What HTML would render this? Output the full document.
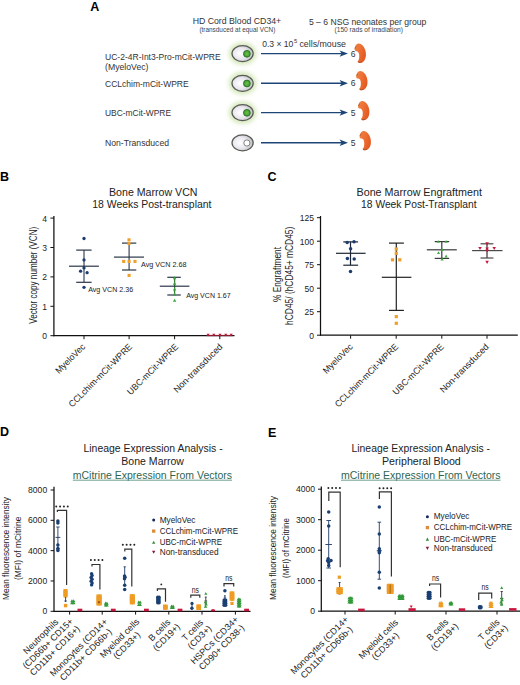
<!DOCTYPE html>
<html><head><meta charset="utf-8"><style>
html,body{margin:0;padding:0;background:#fff;}
body{width:520px;height:685px;overflow:hidden;}
svg{display:block;font-family:"Liberation Sans", sans-serif;}
</style></head><body>
<svg width="520" height="685" viewBox="0 0 520 685">
<defs>
<filter id="blur" x="-50%" y="-50%" width="200%" height="200%"><feGaussianBlur stdDeviation="2.2"/></filter>
<radialGradient id="cellg" cx="0.38" cy="0.5" r="0.65">
<stop offset="0" stop-color="#ffffff"/><stop offset="0.55" stop-color="#e9e6ee"/><stop offset="1" stop-color="#b9b9bd"/>
</radialGradient>
<radialGradient id="glow" cx="0.5" cy="0.5" r="0.5">
<stop offset="0.55" stop-color="#d9ebc0"/><stop offset="1" stop-color="#ffffff" stop-opacity="0"/>
</radialGradient>
<radialGradient id="nuc" cx="0.5" cy="0.5" r="0.5">
<stop offset="0" stop-color="#6cc04a"/><stop offset="0.7" stop-color="#4aa736"/><stop offset="1" stop-color="#2f7d25"/>
</radialGradient>
<linearGradient id="mouse" x1="0" y1="0" x2="1" y2="0.5">
<stop offset="0" stop-color="#eb8444"/><stop offset="0.5" stop-color="#ee7034"/><stop offset="1" stop-color="#e25a22"/>
</linearGradient>
</defs>
<rect width="520" height="685" fill="#fff"/>
<text x="90.30" y="10.60" font-size="12.5" text-anchor="start" fill="#000" font-weight="bold">A</text>
<text x="192.70" y="24.40" font-size="9" text-anchor="start" fill="#333" textLength="88.50" lengthAdjust="spacingAndGlyphs">HD Cord Blood CD34+</text>
<text x="199.40" y="32.00" font-size="6.4" text-anchor="start" fill="#444" textLength="76.00" lengthAdjust="spacingAndGlyphs">(transduced at equal VCN)</text>
<text x="308.90" y="24.60" font-size="9" text-anchor="start" fill="#333" textLength="117.50" lengthAdjust="spacingAndGlyphs">5 – 6 NSG neonates per group</text>
<text x="334.50" y="32.20" font-size="6.6" text-anchor="start" fill="#444" textLength="68.50" lengthAdjust="spacingAndGlyphs">(150 rads of irradiation)</text>
<text x="262.20" y="47.10" font-size="8.6" text-anchor="start" fill="#333" textLength="31.20" lengthAdjust="spacingAndGlyphs">0.3 × 10</text>
<text x="294.00" y="43.40" font-size="5.8" text-anchor="start" fill="#333">5</text>
<text x="299.40" y="47.10" font-size="8.8" text-anchor="start" fill="#333" textLength="46.60" lengthAdjust="spacingAndGlyphs">cells/mouse</text>
<text x="105.00" y="60.00" font-size="8.7" text-anchor="start" fill="#333" textLength="115.70" lengthAdjust="spacingAndGlyphs">UC-2-4R-Int3-Pro-mCit-WPRE</text>
<text x="105.00" y="87.00" font-size="8.7" text-anchor="start" fill="#333" textLength="83.70" lengthAdjust="spacingAndGlyphs">CCLchim-mCit-WPRE</text>
<text x="105.00" y="116.30" font-size="8.7" text-anchor="start" fill="#333" textLength="66.00" lengthAdjust="spacingAndGlyphs">UBC-mCit-WPRE</text>
<text x="105.00" y="146.30" font-size="8.7" text-anchor="start" fill="#333" textLength="64.00" lengthAdjust="spacingAndGlyphs">Non-Transduced</text>
<text x="105.00" y="70.20" font-size="8.7" text-anchor="start" fill="#333" textLength="43.50" lengthAdjust="spacingAndGlyphs">(MyeloVec)</text>
<ellipse cx="242.6" cy="53.6" rx="13.8" ry="11.2" fill="#d6e8bb" filter="url(#blur)"/>
<ellipse cx="242.6" cy="53.6" rx="10.6" ry="8.0" fill="url(#cellg)" stroke="#585c55" stroke-width="1.25"/>
<circle cx="246.9" cy="53.800000000000004" r="3.4" fill="url(#nuc)" stroke="#2c7524" stroke-width="0.9"/>
<line x1="261.00" y1="53.60" x2="342.00" y2="53.60" stroke="#1d4677" stroke-width="1.45"/>
<path d="M348 53.60L339.6 50.40L341.6 53.60L339.6 56.80Z" fill="#1d4677"/>
<text x="350.70" y="56.60" font-size="8.6" text-anchor="start" fill="#333">6</text>
<path d="M354.60 49.60C354.60 47.00 356.00 43.80 358.40 43.60C361.40 43.40 364.20 46.60 365.40 50.60C366.40 54.10 366.00 58.20 364.40 60.40C363.20 62.20 361.40 63.00 359.60 62.90C358.40 62.80 357.40 62.00 358.00 61.00C359.00 59.80 359.40 57.60 359.20 55.00C359.10 53.00 358.20 51.40 356.80 51.20C355.60 51.10 354.60 50.80 354.60 49.60Z" fill="url(#mouse)"/>
<path d="M357.80 61.60C358.80 62.60 360.60 62.60 361.80 61.80" stroke="#7a3c20" stroke-width="0.8" fill="none" opacity="0.75"/>
<path d="M355.00 48.60C355.20 47.40 355.80 46.80 356.40 46.60" stroke="#8a4a28" stroke-width="0.9" fill="none" opacity="0.7"/>
<ellipse cx="242.6" cy="83.3" rx="13.8" ry="11.2" fill="#d6e8bb" filter="url(#blur)"/>
<ellipse cx="242.6" cy="83.3" rx="10.6" ry="8.0" fill="url(#cellg)" stroke="#585c55" stroke-width="1.25"/>
<circle cx="246.9" cy="83.5" r="3.4" fill="url(#nuc)" stroke="#2c7524" stroke-width="0.9"/>
<line x1="261.00" y1="83.30" x2="342.00" y2="83.30" stroke="#1d4677" stroke-width="1.45"/>
<path d="M348 83.30L339.6 80.10L341.6 83.30L339.6 86.50Z" fill="#1d4677"/>
<text x="350.70" y="86.30" font-size="8.6" text-anchor="start" fill="#333">6</text>
<path d="M356.20 77.00C356.20 74.40 357.60 71.20 360.00 71.00C363.00 70.80 365.80 74.00 367.00 78.00C368.00 81.50 367.60 85.60 366.00 87.80C364.80 89.60 363.00 90.40 361.20 90.30C360.00 90.20 359.00 89.40 359.60 88.40C360.60 87.20 361.00 85.00 360.80 82.40C360.70 80.40 359.80 78.80 358.40 78.60C357.20 78.50 356.20 78.20 356.20 77.00Z" fill="url(#mouse)"/>
<path d="M359.40 89.00C360.40 90.00 362.20 90.00 363.40 89.20" stroke="#7a3c20" stroke-width="0.8" fill="none" opacity="0.75"/>
<path d="M356.60 76.00C356.80 74.80 357.40 74.20 358.00 74.00" stroke="#8a4a28" stroke-width="0.9" fill="none" opacity="0.7"/>
<ellipse cx="242.6" cy="112.6" rx="13.8" ry="11.2" fill="#d6e8bb" filter="url(#blur)"/>
<ellipse cx="242.6" cy="112.6" rx="10.6" ry="8.0" fill="url(#cellg)" stroke="#585c55" stroke-width="1.25"/>
<circle cx="246.9" cy="112.8" r="3.4" fill="url(#nuc)" stroke="#2c7524" stroke-width="0.9"/>
<line x1="261.00" y1="112.60" x2="342.00" y2="112.60" stroke="#1d4677" stroke-width="1.45"/>
<path d="M348 112.60L339.6 109.40L341.6 112.60L339.6 115.80Z" fill="#1d4677"/>
<text x="350.70" y="115.60" font-size="8.6" text-anchor="start" fill="#333">5</text>
<path d="M358.10 107.00C358.10 104.40 359.50 101.20 361.90 101.00C364.90 100.80 367.70 104.00 368.90 108.00C369.90 111.50 369.50 115.60 367.90 117.80C366.70 119.60 364.90 120.40 363.10 120.30C361.90 120.20 360.90 119.40 361.50 118.40C362.50 117.20 362.90 115.00 362.70 112.40C362.60 110.40 361.70 108.80 360.30 108.60C359.10 108.50 358.10 108.20 358.10 107.00Z" fill="url(#mouse)"/>
<path d="M361.30 119.00C362.30 120.00 364.10 120.00 365.30 119.20" stroke="#7a3c20" stroke-width="0.8" fill="none" opacity="0.75"/>
<path d="M358.50 106.00C358.70 104.80 359.30 104.20 359.90 104.00" stroke="#8a4a28" stroke-width="0.9" fill="none" opacity="0.7"/>
<ellipse cx="242.6" cy="142.8" rx="10.6" ry="8.0" fill="url(#cellg)" stroke="#585c55" stroke-width="1.25"/>
<circle cx="246.9" cy="143.0" r="3.1" fill="#fff" stroke="#666" stroke-width="0.8"/>
<line x1="261.00" y1="142.80" x2="342.00" y2="142.80" stroke="#1d4677" stroke-width="1.45"/>
<path d="M348 142.80L339.6 139.60L341.6 142.80L339.6 146.00Z" fill="#1d4677"/>
<text x="350.70" y="145.80" font-size="8.6" text-anchor="start" fill="#333">5</text>
<path d="M359.60 137.00C359.60 134.40 361.00 131.20 363.40 131.00C366.40 130.80 369.20 134.00 370.40 138.00C371.40 141.50 371.00 145.60 369.40 147.80C368.20 149.60 366.40 150.40 364.60 150.30C363.40 150.20 362.40 149.40 363.00 148.40C364.00 147.20 364.40 145.00 364.20 142.40C364.10 140.40 363.20 138.80 361.80 138.60C360.60 138.50 359.60 138.20 359.60 137.00Z" fill="url(#mouse)"/>
<path d="M362.80 149.00C363.80 150.00 365.60 150.00 366.80 149.20" stroke="#7a3c20" stroke-width="0.8" fill="none" opacity="0.75"/>
<path d="M360.00 136.00C360.20 134.80 360.80 134.20 361.40 134.00" stroke="#8a4a28" stroke-width="0.9" fill="none" opacity="0.7"/>
<text x="0.10" y="180.70" font-size="12.5" text-anchor="start" fill="#000" font-weight="bold">B</text>
<text x="109.00" y="196.30" font-size="10.5" text-anchor="start" fill="#222" textLength="88.50" lengthAdjust="spacingAndGlyphs">Bone Marrow VCN</text>
<text x="92.30" y="208.40" font-size="10.5" text-anchor="start" fill="#222" textLength="119.20" lengthAdjust="spacingAndGlyphs">18 Weeks Post-transplant</text>
<line x1="53.90" y1="216.00" x2="53.90" y2="336.20" stroke="#111" stroke-width="1.25"/>
<line x1="53.40" y1="335.70" x2="234.50" y2="335.70" stroke="#111" stroke-width="1.25"/>
<line x1="50.40" y1="335.70" x2="53.90" y2="335.70" stroke="#111" stroke-width="1.0"/>
<text x="47.00" y="339.10" font-size="9.4" text-anchor="end" fill="#222" textLength="4.75" lengthAdjust="spacingAndGlyphs">0</text>
<line x1="50.40" y1="306.30" x2="53.90" y2="306.30" stroke="#111" stroke-width="1.0"/>
<text x="47.00" y="309.70" font-size="9.4" text-anchor="end" fill="#222" textLength="4.75" lengthAdjust="spacingAndGlyphs">1</text>
<line x1="50.40" y1="276.90" x2="53.90" y2="276.90" stroke="#111" stroke-width="1.0"/>
<text x="47.00" y="280.30" font-size="9.4" text-anchor="end" fill="#222" textLength="4.75" lengthAdjust="spacingAndGlyphs">2</text>
<line x1="50.40" y1="247.50" x2="53.90" y2="247.50" stroke="#111" stroke-width="1.0"/>
<text x="47.00" y="250.90" font-size="9.4" text-anchor="end" fill="#222" textLength="4.75" lengthAdjust="spacingAndGlyphs">3</text>
<line x1="50.40" y1="218.10" x2="53.90" y2="218.10" stroke="#111" stroke-width="1.0"/>
<text x="47.00" y="221.50" font-size="9.4" text-anchor="end" fill="#222" textLength="4.75" lengthAdjust="spacingAndGlyphs">4</text>
<line x1="84.00" y1="335.70" x2="84.00" y2="339.20" stroke="#111" stroke-width="1.0"/>
<line x1="129.10" y1="335.70" x2="129.10" y2="339.20" stroke="#111" stroke-width="1.0"/>
<line x1="174.60" y1="335.70" x2="174.60" y2="339.20" stroke="#111" stroke-width="1.0"/>
<line x1="219.80" y1="335.70" x2="219.80" y2="339.20" stroke="#111" stroke-width="1.0"/>
<text x="37.20" y="275.30" font-size="10" text-anchor="middle" fill="#222" textLength="97.00" lengthAdjust="spacingAndGlyphs" transform="rotate(-90 37.20 275.30)">Vector copy number (VCN)</text>
<line x1="84.00" y1="250.10" x2="84.00" y2="282.30" stroke="#4b5668" stroke-width="1.3"/>
<line x1="69.00" y1="266.20" x2="98.90" y2="266.20" stroke="#2a3648" stroke-width="1.2"/>
<line x1="76.20" y1="250.10" x2="91.60" y2="250.10" stroke="#2a3648" stroke-width="1.2"/>
<line x1="76.20" y1="282.30" x2="91.60" y2="282.30" stroke="#2a3648" stroke-width="1.2"/>
<circle cx="84.00" cy="238.50" r="1.65" fill="#1c3c70"/>
<circle cx="84.00" cy="259.90" r="1.65" fill="#1c3c70"/>
<circle cx="84.00" cy="267.90" r="1.65" fill="#1c3c70"/>
<circle cx="80.60" cy="271.20" r="1.65" fill="#1c3c70"/>
<circle cx="87.10" cy="272.70" r="1.65" fill="#1c3c70"/>
<circle cx="84.00" cy="287.30" r="1.65" fill="#1c3c70"/>
<text x="88.20" y="292.40" font-size="7.3" text-anchor="start" fill="#222" textLength="45.00" lengthAdjust="spacingAndGlyphs">Avg VCN 2.36</text>
<line x1="129.10" y1="243.10" x2="129.10" y2="270.00" stroke="#4b5668" stroke-width="1.3"/>
<line x1="114.00" y1="257.10" x2="144.00" y2="257.10" stroke="#2a3648" stroke-width="1.2"/>
<line x1="122.00" y1="243.10" x2="136.30" y2="243.10" stroke="#2a3648" stroke-width="1.2"/>
<line x1="122.00" y1="270.00" x2="136.30" y2="270.00" stroke="#2a3648" stroke-width="1.2"/>
<rect x="127.45" y="238.25" width="3.1" height="3.1" fill="#f0a02a"/>
<rect x="127.45" y="241.85" width="3.1" height="3.1" fill="#f0a02a"/>
<rect x="122.15" y="259.85" width="3.1" height="3.1" fill="#f0a02a"/>
<rect x="127.55" y="259.85" width="3.1" height="3.1" fill="#f0a02a"/>
<rect x="133.45" y="259.85" width="3.1" height="3.1" fill="#f0a02a"/>
<rect x="127.55" y="273.85" width="3.1" height="3.1" fill="#f0a02a"/>
<text x="141.00" y="266.80" font-size="7.4" text-anchor="start" fill="#222" textLength="45.60" lengthAdjust="spacingAndGlyphs">Avg VCN 2.68</text>
<line x1="174.60" y1="277.30" x2="174.60" y2="295.00" stroke="#3c7a3c" stroke-width="1.3"/>
<line x1="159.80" y1="286.20" x2="189.40" y2="286.20" stroke="#2a3648" stroke-width="1.2"/>
<line x1="167.30" y1="277.30" x2="180.80" y2="277.30" stroke="#2a3648" stroke-width="1.2"/>
<line x1="167.30" y1="295.00" x2="180.80" y2="295.00" stroke="#2a3648" stroke-width="1.2"/>
<path d="M174.60 276.07L176.30 279.13L172.90 279.13Z" fill="#3ea33e"/>
<path d="M174.60 281.67L176.30 284.73L172.90 284.73Z" fill="#3ea33e"/>
<path d="M174.60 287.47L176.30 290.53L172.90 290.53Z" fill="#3ea33e"/>
<path d="M174.60 292.47L176.30 295.53L172.90 295.53Z" fill="#3ea33e"/>
<path d="M174.60 298.67L176.30 301.73L172.90 301.73Z" fill="#3ea33e"/>
<text x="186.20" y="297.50" font-size="7.3" text-anchor="start" fill="#222" textLength="44.40" lengthAdjust="spacingAndGlyphs">Avg VCN 1.67</text>
<line x1="206.50" y1="335.50" x2="232.50" y2="335.50" stroke="#8a1a30" stroke-width="1.2"/>
<path d="M208.10 336.35L209.60 333.65L206.60 333.65Z" fill="#b81838"/>
<path d="M213.80 336.35L215.30 333.65L212.30 333.65Z" fill="#b81838"/>
<path d="M220.00 336.35L221.50 333.65L218.50 333.65Z" fill="#b81838"/>
<path d="M225.80 336.35L227.30 333.65L224.30 333.65Z" fill="#b81838"/>
<path d="M231.20 336.35L232.70 333.65L229.70 333.65Z" fill="#b81838"/>
<text x="85.80" y="347.30" font-size="9.0" text-anchor="end" fill="#222" textLength="38.00" lengthAdjust="spacingAndGlyphs" transform="rotate(-45 85.80 347.30)">MyeloVec</text>
<text x="132.70" y="347.30" font-size="9.0" text-anchor="end" fill="#222" textLength="85.50" lengthAdjust="spacingAndGlyphs" transform="rotate(-45 132.70 347.30)">CCLchim-mCit-WPRE</text>
<text x="178.90" y="347.30" font-size="9.0" text-anchor="end" fill="#222" textLength="68.00" lengthAdjust="spacingAndGlyphs" transform="rotate(-45 178.90 347.30)">UBC-mCit-WPRE</text>
<text x="223.10" y="347.30" font-size="9.0" text-anchor="end" fill="#222" textLength="65.00" lengthAdjust="spacingAndGlyphs" transform="rotate(-45 223.10 347.30)">Non-transduced</text>
<text x="267.60" y="180.50" font-size="12.5" text-anchor="start" fill="#000" font-weight="bold">C</text>
<text x="356.50" y="196.20" font-size="10.5" text-anchor="start" fill="#222" textLength="125.40" lengthAdjust="spacingAndGlyphs">Bone Marrow Engraftment</text>
<text x="361.10" y="208.30" font-size="10.5" text-anchor="start" fill="#222" textLength="115.40" lengthAdjust="spacingAndGlyphs">18 Week Post-Transplant</text>
<line x1="320.50" y1="216.00" x2="320.50" y2="335.70" stroke="#111" stroke-width="1.25"/>
<line x1="320.00" y1="335.20" x2="517.80" y2="335.20" stroke="#111" stroke-width="1.25"/>
<line x1="317.00" y1="335.20" x2="320.50" y2="335.20" stroke="#111" stroke-width="1.0"/>
<text x="313.90" y="338.60" font-size="9.4" text-anchor="end" fill="#222" textLength="4.75" lengthAdjust="spacingAndGlyphs">0</text>
<line x1="317.00" y1="311.70" x2="320.50" y2="311.70" stroke="#111" stroke-width="1.0"/>
<text x="313.90" y="315.10" font-size="9.4" text-anchor="end" fill="#222" textLength="9.50" lengthAdjust="spacingAndGlyphs">25</text>
<line x1="317.00" y1="288.20" x2="320.50" y2="288.20" stroke="#111" stroke-width="1.0"/>
<text x="313.90" y="291.60" font-size="9.4" text-anchor="end" fill="#222" textLength="9.50" lengthAdjust="spacingAndGlyphs">50</text>
<line x1="317.00" y1="264.70" x2="320.50" y2="264.70" stroke="#111" stroke-width="1.0"/>
<text x="313.90" y="268.10" font-size="9.4" text-anchor="end" fill="#222" textLength="9.50" lengthAdjust="spacingAndGlyphs">75</text>
<line x1="317.00" y1="241.20" x2="320.50" y2="241.20" stroke="#111" stroke-width="1.0"/>
<text x="313.90" y="244.60" font-size="9.4" text-anchor="end" fill="#222" textLength="14.25" lengthAdjust="spacingAndGlyphs">100</text>
<line x1="317.00" y1="217.70" x2="320.50" y2="217.70" stroke="#111" stroke-width="1.0"/>
<text x="313.90" y="221.10" font-size="9.4" text-anchor="end" fill="#222" textLength="14.25" lengthAdjust="spacingAndGlyphs">125</text>
<line x1="350.60" y1="335.20" x2="350.60" y2="338.70" stroke="#111" stroke-width="1.0"/>
<line x1="396.20" y1="335.20" x2="396.20" y2="338.70" stroke="#111" stroke-width="1.0"/>
<line x1="441.80" y1="335.20" x2="441.80" y2="338.70" stroke="#111" stroke-width="1.0"/>
<line x1="487.00" y1="335.20" x2="487.00" y2="338.70" stroke="#111" stroke-width="1.0"/>
<text x="280.80" y="274.50" font-size="10" text-anchor="middle" fill="#222" textLength="55.00" lengthAdjust="spacingAndGlyphs" transform="rotate(-90 280.80 274.50)">% Engraftment</text>
<text x="293.20" y="275.80" font-size="10" text-anchor="middle" fill="#222" textLength="98.20" lengthAdjust="spacingAndGlyphs" transform="rotate(-90 293.20 275.80)">hCD45/ (hCD45+ mCD45)</text>
<line x1="350.50" y1="241.70" x2="350.50" y2="265.20" stroke="#1e2633" stroke-width="1.2"/>
<line x1="336.00" y1="253.30" x2="365.60" y2="253.30" stroke="#1e2633" stroke-width="1.2"/>
<line x1="343.30" y1="241.90" x2="358.10" y2="241.90" stroke="#1e2633" stroke-width="1.2"/>
<line x1="343.30" y1="265.20" x2="358.10" y2="265.20" stroke="#1e2633" stroke-width="1.2"/>
<circle cx="347.20" cy="242.40" r="1.75" fill="#1c3c70"/>
<circle cx="354.00" cy="241.80" r="1.75" fill="#1c3c70"/>
<circle cx="350.60" cy="248.70" r="1.75" fill="#1c3c70"/>
<circle cx="347.40" cy="258.40" r="1.75" fill="#1c3c70"/>
<circle cx="354.20" cy="259.00" r="1.75" fill="#1c3c70"/>
<circle cx="350.50" cy="271.40" r="1.75" fill="#1c3c70"/>
<line x1="396.30" y1="243.10" x2="396.30" y2="310.40" stroke="#222" stroke-width="1.2"/>
<line x1="381.80" y1="277.30" x2="411.40" y2="277.30" stroke="#222" stroke-width="1.2"/>
<line x1="389.00" y1="243.10" x2="403.90" y2="243.10" stroke="#222" stroke-width="1.2"/>
<line x1="389.00" y1="310.40" x2="403.90" y2="310.40" stroke="#222" stroke-width="1.2"/>
<rect x="394.70" y="247.40" width="3.2" height="3.2" fill="#f0a02a"/>
<rect x="394.70" y="251.70" width="3.2" height="3.2" fill="#f0a02a"/>
<rect x="390.90" y="258.20" width="3.2" height="3.2" fill="#f0a02a"/>
<rect x="398.20" y="258.20" width="3.2" height="3.2" fill="#f0a02a"/>
<rect x="394.70" y="315.00" width="3.2" height="3.2" fill="#f0a02a"/>
<rect x="394.70" y="321.70" width="3.2" height="3.2" fill="#f0a02a"/>
<line x1="441.80" y1="241.60" x2="441.80" y2="258.40" stroke="#3a3450" stroke-width="1.2"/>
<line x1="426.80" y1="249.80" x2="456.80" y2="249.80" stroke="#3a3a3a" stroke-width="1.2"/>
<line x1="434.70" y1="241.60" x2="449.20" y2="241.60" stroke="#3a3a3a" stroke-width="1.2"/>
<line x1="434.70" y1="258.40" x2="449.20" y2="258.40" stroke="#3a3a3a" stroke-width="1.2"/>
<path d="M438.20 239.96L439.80 242.84L436.60 242.84Z" fill="#45a845"/>
<path d="M446.10 239.96L447.70 242.84L444.50 242.84Z" fill="#45a845"/>
<path d="M442.10 248.16L443.70 251.04L440.50 251.04Z" fill="#45a845"/>
<path d="M438.50 251.16L440.10 254.04L436.90 254.04Z" fill="#45a845"/>
<path d="M446.10 254.56L447.70 257.44L444.50 257.44Z" fill="#45a845"/>
<path d="M442.10 257.56L443.70 260.44L440.50 260.44Z" fill="#45a845"/>
<line x1="487.00" y1="243.80" x2="487.00" y2="258.00" stroke="#3a3034" stroke-width="1.2"/>
<line x1="472.10" y1="250.60" x2="502.50" y2="250.60" stroke="#4a4a4a" stroke-width="1.2"/>
<line x1="480.50" y1="243.80" x2="493.40" y2="243.80" stroke="#4a4a4a" stroke-width="1.2"/>
<line x1="480.50" y1="258.00" x2="493.40" y2="258.00" stroke="#4a4a4a" stroke-width="1.2"/>
<path d="M487.10 245.38L488.85 242.23L485.35 242.23Z" fill="#c8173c"/>
<path d="M480.00 250.07L481.75 246.93L478.25 246.93Z" fill="#c8173c"/>
<path d="M494.20 250.07L495.95 246.93L492.45 246.93Z" fill="#c8173c"/>
<path d="M487.10 250.57L488.85 247.43L485.35 247.43Z" fill="#c8173c"/>
<path d="M487.10 252.57L488.85 249.43L485.35 249.43Z" fill="#c8173c"/>
<path d="M487.10 263.97L488.85 260.82L485.35 260.82Z" fill="#c8173c"/>
<text x="353.30" y="347.30" font-size="9.0" text-anchor="end" fill="#222" textLength="38.00" lengthAdjust="spacingAndGlyphs" transform="rotate(-45 353.30 347.30)">MyeloVec</text>
<text x="398.90" y="347.30" font-size="9.0" text-anchor="end" fill="#222" textLength="85.50" lengthAdjust="spacingAndGlyphs" transform="rotate(-45 398.90 347.30)">CCLchim-mCit-WPRE</text>
<text x="444.40" y="347.30" font-size="9.0" text-anchor="end" fill="#222" textLength="68.00" lengthAdjust="spacingAndGlyphs" transform="rotate(-45 444.40 347.30)">UBC-mCit-WPRE</text>
<text x="489.40" y="347.30" font-size="9.0" text-anchor="end" fill="#222" textLength="65.00" lengthAdjust="spacingAndGlyphs" transform="rotate(-45 489.40 347.30)">Non-transduced</text>
<text x="0.00" y="436.30" font-size="12.5" text-anchor="start" fill="#000" font-weight="bold">D</text>
<text x="83.50" y="451.50" font-size="10.45" text-anchor="start" fill="#222" textLength="139.20" lengthAdjust="spacingAndGlyphs">Lineage Expression Analysis -</text>
<text x="121.30" y="464.60" font-size="10.45" text-anchor="start" fill="#222" textLength="62.70" lengthAdjust="spacingAndGlyphs">Bone Marrow</text>
<text x="72.80" y="478.50" font-size="10.45" text-anchor="start" fill="#2e6552" textLength="159.20" lengthAdjust="spacingAndGlyphs">mCitrine Expression From Vectors</text>
<line x1="72.80" y1="480.20" x2="232.00" y2="480.20" stroke="#5f9680" stroke-width="0.9"/>
<line x1="54.00" y1="486.80" x2="54.00" y2="611.80" stroke="#111" stroke-width="1.25"/>
<line x1="53.50" y1="611.30" x2="250.50" y2="611.30" stroke="#111" stroke-width="1.25"/>
<line x1="50.60" y1="611.30" x2="54.00" y2="611.30" stroke="#111" stroke-width="1.0"/>
<text x="47.20" y="614.30" font-size="8.6" text-anchor="end" fill="#222">0</text>
<line x1="50.60" y1="580.97" x2="54.00" y2="580.97" stroke="#111" stroke-width="1.0"/>
<text x="47.20" y="583.97" font-size="8.6" text-anchor="end" fill="#222">2000</text>
<line x1="50.60" y1="550.65" x2="54.00" y2="550.65" stroke="#111" stroke-width="1.0"/>
<text x="47.20" y="553.65" font-size="8.6" text-anchor="end" fill="#222">4000</text>
<line x1="50.60" y1="520.32" x2="54.00" y2="520.32" stroke="#111" stroke-width="1.0"/>
<text x="47.20" y="523.32" font-size="8.6" text-anchor="end" fill="#222">6000</text>
<line x1="50.60" y1="490.00" x2="54.00" y2="490.00" stroke="#111" stroke-width="1.0"/>
<text x="47.20" y="493.00" font-size="8.6" text-anchor="end" fill="#222">8000</text>
<line x1="69.60" y1="611.30" x2="69.60" y2="614.60" stroke="#111" stroke-width="1.0"/>
<line x1="102.20" y1="611.30" x2="102.20" y2="614.60" stroke="#111" stroke-width="1.0"/>
<line x1="135.60" y1="611.30" x2="135.60" y2="614.60" stroke="#111" stroke-width="1.0"/>
<line x1="168.80" y1="611.30" x2="168.80" y2="614.60" stroke="#111" stroke-width="1.0"/>
<line x1="202.00" y1="611.30" x2="202.00" y2="614.60" stroke="#111" stroke-width="1.0"/>
<line x1="235.40" y1="611.30" x2="235.40" y2="614.60" stroke="#111" stroke-width="1.0"/>
<text x="8.60" y="548.50" font-size="9.6" text-anchor="middle" fill="#222" textLength="103.00" lengthAdjust="spacingAndGlyphs" transform="rotate(-90 8.60 548.50)">Mean fluorescence intensity</text>
<text x="20.60" y="548.30" font-size="9.6" text-anchor="middle" fill="#222" textLength="63.40" lengthAdjust="spacingAndGlyphs" transform="rotate(-90 20.60 548.30)">(MFI) of mCitrine</text>
<line x1="57.90" y1="527.00" x2="57.90" y2="549.00" stroke="#1d3a66" stroke-width="0.9"/>
<line x1="55.50" y1="537.40" x2="60.30" y2="537.40" stroke="#1d3a66" stroke-width="0.9"/>
<line x1="56.22" y1="527.00" x2="59.58" y2="527.00" stroke="#1d3a66" stroke-width="0.9"/>
<line x1="56.22" y1="549.00" x2="59.58" y2="549.00" stroke="#1d3a66" stroke-width="0.9"/>
<circle cx="57.90" cy="520.90" r="1.75" fill="#1a3f72"/>
<circle cx="57.90" cy="523.00" r="1.75" fill="#1a3f72"/>
<circle cx="57.90" cy="544.90" r="1.75" fill="#1a3f72"/>
<circle cx="57.90" cy="548.40" r="1.75" fill="#1a3f72"/>
<circle cx="57.90" cy="550.60" r="1.75" fill="#1a3f72"/>
<circle cx="56.26" cy="506.50" r="1.0" fill="#222"/>
<circle cx="60.09" cy="506.50" r="1.0" fill="#222"/>
<circle cx="63.92" cy="506.50" r="1.0" fill="#222"/>
<circle cx="67.75" cy="506.50" r="1.0" fill="#222"/>
<path d="M57.40 512.00V510.40H66.60V585.10" fill="none" stroke="#333" stroke-width="1.2"/>
<rect x="63.40" y="589.00" width="3.2" height="3.2" fill="#ee9c24"/>
<rect x="64.40" y="589.00" width="3.2" height="3.2" fill="#ee9c24"/>
<rect x="63.40" y="590.73" width="3.2" height="3.2" fill="#ee9c24"/>
<rect x="64.40" y="590.73" width="3.2" height="3.2" fill="#ee9c24"/>
<rect x="63.40" y="592.47" width="3.2" height="3.2" fill="#ee9c24"/>
<rect x="64.40" y="592.47" width="3.2" height="3.2" fill="#ee9c24"/>
<rect x="63.40" y="594.20" width="3.2" height="3.2" fill="#ee9c24"/>
<rect x="64.40" y="594.20" width="3.2" height="3.2" fill="#ee9c24"/>
<line x1="65.60" y1="597.00" x2="65.60" y2="602.00" stroke="#1d3a66" stroke-width="0.9"/>
<line x1="64.40" y1="601.00" x2="66.80" y2="601.00" stroke="#1d3a66" stroke-width="0.9"/>
<rect x="63.90" y="603.90" width="3.4" height="3.4" fill="#ee9c24"/>
<path d="M71.95 599.17L73.70 602.33L70.20 602.33Z" fill="#32993a"/>
<path d="M73.65 599.17L75.40 602.33L71.90 602.33Z" fill="#32993a"/>
<path d="M71.95 601.07L73.70 604.23L70.20 604.23Z" fill="#32993a"/>
<path d="M73.65 601.07L75.40 604.23L71.90 604.23Z" fill="#32993a"/>
<rect x="77.50" y="608.70" width="4.8" height="2.6" fill="#c8173c"/>
<circle cx="91.60" cy="573.70" r="1.7" fill="#1a3f72"/>
<circle cx="92.10" cy="575.57" r="1.7" fill="#1a3f72"/>
<circle cx="91.10" cy="577.43" r="1.7" fill="#1a3f72"/>
<circle cx="92.10" cy="579.30" r="1.7" fill="#1a3f72"/>
<circle cx="91.10" cy="581.17" r="1.7" fill="#1a3f72"/>
<circle cx="92.10" cy="583.03" r="1.7" fill="#1a3f72"/>
<circle cx="91.60" cy="584.90" r="1.7" fill="#1a3f72"/>
<circle cx="90.91" cy="560.10" r="1.0" fill="#222"/>
<circle cx="94.73" cy="560.10" r="1.0" fill="#222"/>
<circle cx="98.56" cy="560.10" r="1.0" fill="#222"/>
<circle cx="102.39" cy="560.10" r="1.0" fill="#222"/>
<path d="M92.00 566.50V564.50H99.90V589.50" fill="none" stroke="#333" stroke-width="1.2"/>
<rect x="96.40" y="594.40" width="3.2" height="3.2" fill="#ee9c24"/>
<rect x="98.60" y="594.40" width="3.2" height="3.2" fill="#ee9c24"/>
<rect x="96.40" y="596.40" width="3.2" height="3.2" fill="#ee9c24"/>
<rect x="98.60" y="596.40" width="3.2" height="3.2" fill="#ee9c24"/>
<rect x="96.40" y="598.40" width="3.2" height="3.2" fill="#ee9c24"/>
<rect x="98.60" y="598.40" width="3.2" height="3.2" fill="#ee9c24"/>
<rect x="96.40" y="600.40" width="3.2" height="3.2" fill="#ee9c24"/>
<rect x="98.60" y="600.40" width="3.2" height="3.2" fill="#ee9c24"/>
<rect x="96.40" y="602.40" width="3.2" height="3.2" fill="#ee9c24"/>
<rect x="98.60" y="602.40" width="3.2" height="3.2" fill="#ee9c24"/>
<path d="M97.6 601.6L100.4 601.6L99 603.4Z" fill="#7a3a10"/>
<path d="M105.55 601.57L107.30 604.73L103.80 604.73Z" fill="#32993a"/>
<path d="M106.95 601.57L108.70 604.73L105.20 604.73Z" fill="#32993a"/>
<path d="M105.55 603.47L107.30 606.62L103.80 606.62Z" fill="#32993a"/>
<path d="M106.95 603.47L108.70 606.62L105.20 606.62Z" fill="#32993a"/>
<rect x="110.90" y="608.70" width="4.8" height="2.6" fill="#c8173c"/>
<line x1="124.70" y1="566.80" x2="124.70" y2="585.00" stroke="#1d3a66" stroke-width="0.9"/>
<line x1="123.10" y1="576.20" x2="126.30" y2="576.20" stroke="#1d3a66" stroke-width="0.9"/>
<line x1="123.58" y1="566.80" x2="125.82" y2="566.80" stroke="#1d3a66" stroke-width="0.9"/>
<line x1="123.58" y1="585.00" x2="125.82" y2="585.00" stroke="#1d3a66" stroke-width="0.9"/>
<circle cx="124.70" cy="558.30" r="1.75" fill="#1a3f72"/>
<circle cx="124.50" cy="575.90" r="1.7" fill="#1a3f72"/>
<circle cx="125.00" cy="577.30" r="1.7" fill="#1a3f72"/>
<circle cx="124.50" cy="578.70" r="1.7" fill="#1a3f72"/>
<circle cx="124.70" cy="585.30" r="1.75" fill="#1a3f72"/>
<circle cx="124.70" cy="589.40" r="1.75" fill="#1a3f72"/>
<circle cx="122.81" cy="544.80" r="1.0" fill="#222"/>
<circle cx="126.64" cy="544.80" r="1.0" fill="#222"/>
<circle cx="130.47" cy="544.80" r="1.0" fill="#222"/>
<circle cx="134.30" cy="544.80" r="1.0" fill="#222"/>
<path d="M124.80 551.50V549.20H131.80V586.60" fill="none" stroke="#333" stroke-width="1.2"/>
<rect x="129.80" y="594.20" width="3.2" height="3.2" fill="#ee9c24"/>
<rect x="131.70" y="594.20" width="3.2" height="3.2" fill="#ee9c24"/>
<rect x="129.80" y="595.95" width="3.2" height="3.2" fill="#ee9c24"/>
<rect x="131.70" y="595.95" width="3.2" height="3.2" fill="#ee9c24"/>
<rect x="129.80" y="597.70" width="3.2" height="3.2" fill="#ee9c24"/>
<rect x="131.70" y="597.70" width="3.2" height="3.2" fill="#ee9c24"/>
<rect x="129.80" y="599.45" width="3.2" height="3.2" fill="#ee9c24"/>
<rect x="131.70" y="599.45" width="3.2" height="3.2" fill="#ee9c24"/>
<rect x="129.80" y="601.20" width="3.2" height="3.2" fill="#ee9c24"/>
<rect x="131.70" y="601.20" width="3.2" height="3.2" fill="#ee9c24"/>
<path d="M138.75 600.38L140.50 603.53L137.00 603.53Z" fill="#32993a"/>
<path d="M140.15 600.38L141.90 603.53L138.40 603.53Z" fill="#32993a"/>
<path d="M138.75 602.88L140.50 606.03L137.00 606.03Z" fill="#32993a"/>
<path d="M140.15 602.88L141.90 606.03L138.40 606.03Z" fill="#32993a"/>
<rect x="144.00" y="608.70" width="4.8" height="2.6" fill="#c8173c"/>
<circle cx="157.70" cy="597.30" r="1.7" fill="#1a3f72"/>
<circle cx="159.10" cy="597.30" r="1.7" fill="#1a3f72"/>
<circle cx="157.70" cy="599.10" r="1.7" fill="#1a3f72"/>
<circle cx="159.10" cy="599.10" r="1.7" fill="#1a3f72"/>
<circle cx="157.70" cy="600.90" r="1.7" fill="#1a3f72"/>
<circle cx="159.10" cy="600.90" r="1.7" fill="#1a3f72"/>
<circle cx="157.70" cy="602.70" r="1.7" fill="#1a3f72"/>
<circle cx="159.10" cy="602.70" r="1.7" fill="#1a3f72"/>
<circle cx="161.3" cy="584.4" r="0.9" fill="#222"/>
<path d="M157.40 591.00V588.80H165.50V601.80" fill="none" stroke="#333" stroke-width="1.2"/>
<rect x="163.00" y="604.60" width="3.2" height="3.2" fill="#ee9c24"/>
<rect x="164.60" y="604.60" width="3.2" height="3.2" fill="#ee9c24"/>
<rect x="163.00" y="606.60" width="3.2" height="3.2" fill="#ee9c24"/>
<rect x="164.60" y="606.60" width="3.2" height="3.2" fill="#ee9c24"/>
<path d="M171.65 604.38L173.40 607.53L169.90 607.53Z" fill="#32993a"/>
<path d="M173.15 604.38L174.90 607.53L171.40 607.53Z" fill="#32993a"/>
<path d="M171.65 605.88L173.40 609.03L169.90 609.03Z" fill="#32993a"/>
<path d="M173.15 605.88L174.90 609.03L171.40 609.03Z" fill="#32993a"/>
<rect x="177.60" y="608.70" width="4.8" height="2.6" fill="#c8173c"/>
<line x1="192.00" y1="602.60" x2="192.00" y2="607.00" stroke="#1d3a66" stroke-width="1.0"/>
<circle cx="192.00" cy="603.40" r="1.6" fill="#1a3f72"/>
<circle cx="191.90" cy="608.30" r="1.7" fill="#1a3f72"/>
<text x="195.35" y="592.70" font-size="8.8" text-anchor="middle" fill="#222" textLength="7.20" lengthAdjust="spacingAndGlyphs">ns</text>
<path d="M190.80 597.80V595.20H199.80V597.80" fill="none" stroke="#333" stroke-width="1.2"/>
<rect x="196.30" y="604.40" width="3.2" height="3.2" fill="#ee9c24"/>
<rect x="197.90" y="604.40" width="3.2" height="3.2" fill="#ee9c24"/>
<rect x="196.30" y="606.80" width="3.2" height="3.2" fill="#ee9c24"/>
<rect x="197.90" y="606.80" width="3.2" height="3.2" fill="#ee9c24"/>
<line x1="205.80" y1="597.10" x2="205.80" y2="604.00" stroke="#333" stroke-width="0.9"/>
<line x1="204.40" y1="601.00" x2="207.20" y2="601.00" stroke="#333" stroke-width="0.9"/>
<line x1="204.82" y1="597.10" x2="206.78" y2="597.10" stroke="#333" stroke-width="0.9"/>
<line x1="204.82" y1="604.00" x2="206.78" y2="604.00" stroke="#333" stroke-width="0.9"/>
<path d="M205.80 592.05L207.30 594.75L204.30 594.75Z" fill="#32993a"/>
<path d="M205.55 600.17L207.30 603.33L203.80 603.33Z" fill="#32993a"/>
<path d="M206.05 602.42L207.80 605.58L204.30 605.58Z" fill="#32993a"/>
<path d="M205.55 604.67L207.30 607.83L203.80 607.83Z" fill="#32993a"/>
<path d="M210.8 611.2C210.8 608.2 215.3 608.2 215.3 611.2Z" fill="#c8173c"/>
<circle cx="224.90" cy="590.80" r="1.75" fill="#1a3f72"/>
<line x1="224.90" y1="595.80" x2="224.90" y2="600.00" stroke="#1d3a66" stroke-width="0.9"/>
<line x1="223.60" y1="598.00" x2="226.20" y2="598.00" stroke="#1d3a66" stroke-width="0.9"/>
<line x1="223.99" y1="595.80" x2="225.81" y2="595.80" stroke="#1d3a66" stroke-width="0.9"/>
<line x1="223.99" y1="600.00" x2="225.81" y2="600.00" stroke="#1d3a66" stroke-width="0.9"/>
<circle cx="224.10" cy="600.10" r="1.7" fill="#1a3f72"/>
<circle cx="225.70" cy="600.10" r="1.7" fill="#1a3f72"/>
<circle cx="224.10" cy="601.83" r="1.7" fill="#1a3f72"/>
<circle cx="225.70" cy="601.83" r="1.7" fill="#1a3f72"/>
<circle cx="224.10" cy="603.57" r="1.7" fill="#1a3f72"/>
<circle cx="225.70" cy="603.57" r="1.7" fill="#1a3f72"/>
<circle cx="224.10" cy="605.30" r="1.7" fill="#1a3f72"/>
<circle cx="225.70" cy="605.30" r="1.7" fill="#1a3f72"/>
<text x="228.85" y="581.10" font-size="8.8" text-anchor="middle" fill="#222" textLength="7.20" lengthAdjust="spacingAndGlyphs">ns</text>
<path d="M224.00 586.40V583.60H233.70V586.40" fill="none" stroke="#333" stroke-width="1.2"/>
<rect x="229.60" y="591.40" width="3.2" height="3.2" fill="#ee9c24"/>
<rect x="231.20" y="591.40" width="3.2" height="3.2" fill="#ee9c24"/>
<rect x="229.60" y="593.47" width="3.2" height="3.2" fill="#ee9c24"/>
<rect x="231.20" y="593.47" width="3.2" height="3.2" fill="#ee9c24"/>
<rect x="229.60" y="595.53" width="3.2" height="3.2" fill="#ee9c24"/>
<rect x="231.20" y="595.53" width="3.2" height="3.2" fill="#ee9c24"/>
<rect x="229.60" y="597.60" width="3.2" height="3.2" fill="#ee9c24"/>
<rect x="231.20" y="597.60" width="3.2" height="3.2" fill="#ee9c24"/>
<rect x="230.40" y="601.80" width="3.2" height="3.2" fill="#ee9c24"/>
<path d="M238.35 597.38L240.10 600.53L236.60 600.53Z" fill="#32993a"/>
<path d="M239.85 597.38L241.60 600.53L238.10 600.53Z" fill="#32993a"/>
<path d="M238.35 599.15L240.10 602.30L236.60 602.30Z" fill="#32993a"/>
<path d="M239.85 599.15L241.60 602.30L238.10 602.30Z" fill="#32993a"/>
<path d="M238.35 600.92L240.10 604.08L236.60 604.08Z" fill="#32993a"/>
<path d="M239.85 600.92L241.60 604.08L238.10 604.08Z" fill="#32993a"/>
<path d="M238.35 602.70L240.10 605.85L236.60 605.85Z" fill="#32993a"/>
<path d="M239.85 602.70L241.60 605.85L238.10 605.85Z" fill="#32993a"/>
<path d="M238.35 604.47L240.10 607.62L236.60 607.62Z" fill="#32993a"/>
<path d="M239.85 604.47L241.60 607.62L238.10 607.62Z" fill="#32993a"/>
<rect x="244.20" y="608.70" width="4.8" height="2.6" fill="#c8173c"/>
<circle cx="153.70" cy="520.00" r="1.5" fill="#15285a"/>
<rect x="152.05" y="529.45" width="3.3" height="3.3" fill="#dc8c3a"/>
<path d="M153.70 540.67L155.40 543.73L152.00 543.73Z" fill="#3a8a3a"/>
<path d="M153.70 553.83L155.40 550.77L152.00 550.77Z" fill="#8a1a40"/>
<text x="159.70" y="522.70" font-size="8.6" text-anchor="start" fill="#222" textLength="35.80" lengthAdjust="spacingAndGlyphs">MyeloVec</text>
<text x="159.70" y="533.50" font-size="8.6" text-anchor="start" fill="#222" textLength="78.40" lengthAdjust="spacingAndGlyphs">CCLchim-mCit-WPRE</text>
<text x="159.70" y="544.60" font-size="8.6" text-anchor="start" fill="#222" textLength="62.40" lengthAdjust="spacingAndGlyphs">UBC-mCit-WPRE</text>
<text x="159.70" y="554.60" font-size="8.6" text-anchor="start" fill="#222" textLength="58.90" lengthAdjust="spacingAndGlyphs">Non-transduced</text>
<text x="42.90" y="638.60" font-size="9.0" text-anchor="middle" fill="#222" transform="rotate(-45 42.90 638.60)">Neutrophils</text>
<text x="49.97" y="645.67" font-size="9.0" text-anchor="middle" fill="#222" transform="rotate(-45 49.97 645.67)">(CD66b+ CD15+</text>
<text x="57.04" y="652.74" font-size="9.0" text-anchor="middle" fill="#222" transform="rotate(-45 57.04 652.74)">CD11b+ CD16+)</text>
<text x="80.80" y="649.70" font-size="9.0" text-anchor="middle" fill="#222" transform="rotate(-45 80.80 649.70)">Monocytes (CD14+</text>
<text x="87.87" y="656.77" font-size="9.0" text-anchor="middle" fill="#222" transform="rotate(-45 87.87 656.77)">CD11b+ CD66b-)</text>
<text x="121.70" y="640.40" font-size="9.0" text-anchor="middle" fill="#222" transform="rotate(-45 121.70 640.40)">Myeloid cells</text>
<text x="128.77" y="647.47" font-size="9.0" text-anchor="middle" fill="#222" transform="rotate(-45 128.77 647.47)">(CD33+)</text>
<text x="161.50" y="632.30" font-size="9.0" text-anchor="middle" fill="#222" transform="rotate(-45 161.50 632.30)">B cells</text>
<text x="168.57" y="639.37" font-size="9.0" text-anchor="middle" fill="#222" transform="rotate(-45 168.57 639.37)">(CD19+)</text>
<text x="194.60" y="632.30" font-size="9.0" text-anchor="middle" fill="#222" transform="rotate(-45 194.60 632.30)">T cells</text>
<text x="201.67" y="639.37" font-size="9.0" text-anchor="middle" fill="#222" transform="rotate(-45 201.67 639.37)">(CD3+)</text>
<text x="216.60" y="642.40" font-size="9.0" text-anchor="middle" fill="#222" transform="rotate(-45 216.60 642.40)">HSPCs (CD34+</text>
<text x="223.67" y="649.47" font-size="9.0" text-anchor="middle" fill="#222" transform="rotate(-45 223.67 649.47)">CD90+ CD38-)</text>
<text x="268.00" y="436.50" font-size="12.5" text-anchor="start" fill="#000" font-weight="bold">E</text>
<text x="351.50" y="451.50" font-size="10.45" text-anchor="start" fill="#222" textLength="138.50" lengthAdjust="spacingAndGlyphs">Lineage Expression Analysis -</text>
<text x="382.00" y="464.60" font-size="10.45" text-anchor="start" fill="#222" textLength="78.80" lengthAdjust="spacingAndGlyphs">Peripheral Blood</text>
<text x="341.00" y="478.50" font-size="10.45" text-anchor="start" fill="#2e6552" textLength="159.60" lengthAdjust="spacingAndGlyphs">mCitrine Expression From Vectors</text>
<line x1="341.00" y1="480.20" x2="500.60" y2="480.20" stroke="#5f9680" stroke-width="0.9"/>
<line x1="321.30" y1="486.50" x2="321.30" y2="611.70" stroke="#111" stroke-width="1.25"/>
<line x1="320.80" y1="611.20" x2="520.00" y2="611.20" stroke="#111" stroke-width="1.25"/>
<line x1="318.00" y1="611.20" x2="321.30" y2="611.20" stroke="#111" stroke-width="1.0"/>
<text x="315.00" y="614.20" font-size="8.6" text-anchor="end" fill="#222">0</text>
<line x1="318.00" y1="580.70" x2="321.30" y2="580.70" stroke="#111" stroke-width="1.0"/>
<text x="315.00" y="583.70" font-size="8.6" text-anchor="end" fill="#222">1000</text>
<line x1="318.00" y1="550.20" x2="321.30" y2="550.20" stroke="#111" stroke-width="1.0"/>
<text x="315.00" y="553.20" font-size="8.6" text-anchor="end" fill="#222">2000</text>
<line x1="318.00" y1="519.70" x2="321.30" y2="519.70" stroke="#111" stroke-width="1.0"/>
<text x="315.00" y="522.70" font-size="8.6" text-anchor="end" fill="#222">3000</text>
<line x1="318.00" y1="489.20" x2="321.30" y2="489.20" stroke="#111" stroke-width="1.0"/>
<text x="315.00" y="492.20" font-size="8.6" text-anchor="end" fill="#222">4000</text>
<line x1="345.00" y1="611.20" x2="345.00" y2="614.50" stroke="#111" stroke-width="1.0"/>
<line x1="395.20" y1="611.20" x2="395.20" y2="614.50" stroke="#111" stroke-width="1.0"/>
<line x1="446.00" y1="611.20" x2="446.00" y2="614.50" stroke="#111" stroke-width="1.0"/>
<line x1="497.00" y1="611.20" x2="497.00" y2="614.50" stroke="#111" stroke-width="1.0"/>
<text x="276.20" y="548.00" font-size="9.6" text-anchor="middle" fill="#222" textLength="104.00" lengthAdjust="spacingAndGlyphs" transform="rotate(-90 276.20 548.00)">Mean fluorescence intensity</text>
<text x="289.40" y="548.00" font-size="9.6" text-anchor="middle" fill="#222" textLength="60.00" lengthAdjust="spacingAndGlyphs" transform="rotate(-90 289.40 548.00)">(MFI) of mCitrine</text>
<line x1="328.70" y1="520.50" x2="328.70" y2="568.00" stroke="#1d3a66" stroke-width="0.9"/>
<line x1="325.40" y1="544.50" x2="332.00" y2="544.50" stroke="#1d3a66" stroke-width="0.9"/>
<line x1="326.39" y1="520.50" x2="331.01" y2="520.50" stroke="#1d3a66" stroke-width="0.9"/>
<line x1="326.39" y1="568.00" x2="331.01" y2="568.00" stroke="#1d3a66" stroke-width="0.9"/>
<circle cx="328.70" cy="512.10" r="1.75" fill="#1a3f72"/>
<circle cx="328.70" cy="526.00" r="1.75" fill="#1a3f72"/>
<circle cx="328.20" cy="558.80" r="1.75" fill="#1a3f72"/>
<circle cx="331.00" cy="560.40" r="1.75" fill="#1a3f72"/>
<circle cx="328.70" cy="562.60" r="1.75" fill="#1a3f72"/>
<circle cx="327.60" cy="560.80" r="1.75" fill="#1a3f72"/>
<circle cx="328.70" cy="565.60" r="1.75" fill="#1a3f72"/>
<circle cx="328.36" cy="488.00" r="1.0" fill="#222"/>
<circle cx="332.19" cy="488.00" r="1.0" fill="#222"/>
<circle cx="336.02" cy="488.00" r="1.0" fill="#222"/>
<circle cx="339.85" cy="488.00" r="1.0" fill="#222"/>
<path d="M328.80 501.00V492.20H340.20V567.20" fill="none" stroke="#333" stroke-width="1.2"/>
<rect x="337.70" y="575.60" width="3.2" height="3.2" fill="#ee9c24"/>
<line x1="339.60" y1="582.50" x2="339.60" y2="594.00" stroke="#1d3a66" stroke-width="0.9"/>
<line x1="338.20" y1="588.50" x2="341.00" y2="588.50" stroke="#1d3a66" stroke-width="0.9"/>
<line x1="338.62" y1="582.50" x2="340.58" y2="582.50" stroke="#1d3a66" stroke-width="0.9"/>
<line x1="338.62" y1="594.00" x2="340.58" y2="594.00" stroke="#1d3a66" stroke-width="0.9"/>
<rect x="336.40" y="587.20" width="3.2" height="3.2" fill="#ee9c24"/>
<rect x="338.00" y="587.20" width="3.2" height="3.2" fill="#ee9c24"/>
<rect x="339.60" y="587.20" width="3.2" height="3.2" fill="#ee9c24"/>
<rect x="336.40" y="589.10" width="3.2" height="3.2" fill="#ee9c24"/>
<rect x="338.00" y="589.10" width="3.2" height="3.2" fill="#ee9c24"/>
<rect x="339.60" y="589.10" width="3.2" height="3.2" fill="#ee9c24"/>
<rect x="336.40" y="591.00" width="3.2" height="3.2" fill="#ee9c24"/>
<rect x="338.00" y="591.00" width="3.2" height="3.2" fill="#ee9c24"/>
<rect x="339.60" y="591.00" width="3.2" height="3.2" fill="#ee9c24"/>
<path d="M349.15 596.17L350.90 599.33L347.40 599.33Z" fill="#32993a"/>
<path d="M350.50 596.17L352.25 599.33L348.75 599.33Z" fill="#32993a"/>
<path d="M351.85 596.17L353.60 599.33L350.10 599.33Z" fill="#32993a"/>
<path d="M349.15 598.22L350.90 601.38L347.40 601.38Z" fill="#32993a"/>
<path d="M350.50 598.22L352.25 601.38L348.75 601.38Z" fill="#32993a"/>
<path d="M351.85 598.22L353.60 601.38L350.10 601.38Z" fill="#32993a"/>
<path d="M349.15 600.27L350.90 603.43L347.40 603.43Z" fill="#32993a"/>
<path d="M350.50 600.27L352.25 603.43L348.75 603.43Z" fill="#32993a"/>
<path d="M351.85 600.27L353.60 603.43L350.10 603.43Z" fill="#32993a"/>
<rect x="358.10" y="608.60" width="6.6" height="2.6" fill="#c8173c"/>
<line x1="379.30" y1="522.20" x2="379.30" y2="579.20" stroke="#1d3a66" stroke-width="0.9"/>
<line x1="376.70" y1="550.80" x2="381.90" y2="550.80" stroke="#1d3a66" stroke-width="0.9"/>
<line x1="377.48" y1="522.20" x2="381.12" y2="522.20" stroke="#1d3a66" stroke-width="0.9"/>
<line x1="377.48" y1="579.20" x2="381.12" y2="579.20" stroke="#1d3a66" stroke-width="0.9"/>
<circle cx="379.30" cy="506.90" r="1.75" fill="#1a3f72"/>
<circle cx="379.30" cy="534.00" r="1.75" fill="#1a3f72"/>
<circle cx="379.30" cy="548.80" r="1.75" fill="#1a3f72"/>
<circle cx="379.30" cy="550.80" r="1.75" fill="#1a3f72"/>
<circle cx="379.30" cy="552.80" r="1.75" fill="#1a3f72"/>
<circle cx="379.30" cy="572.20" r="1.75" fill="#1a3f72"/>
<circle cx="379.30" cy="588.00" r="1.75" fill="#1a3f72"/>
<circle cx="379.61" cy="488.20" r="1.0" fill="#222"/>
<circle cx="383.44" cy="488.20" r="1.0" fill="#222"/>
<circle cx="387.27" cy="488.20" r="1.0" fill="#222"/>
<circle cx="391.10" cy="488.20" r="1.0" fill="#222"/>
<path d="M379.40 499.00V491.90H391.40V576.60" fill="none" stroke="#333" stroke-width="1.2"/>
<rect x="386.80" y="583.80" width="3.2" height="3.2" fill="#ee9c24"/>
<rect x="388.60" y="583.80" width="3.2" height="3.2" fill="#ee9c24"/>
<rect x="390.40" y="583.80" width="3.2" height="3.2" fill="#ee9c24"/>
<rect x="386.80" y="585.55" width="3.2" height="3.2" fill="#ee9c24"/>
<rect x="388.60" y="585.55" width="3.2" height="3.2" fill="#ee9c24"/>
<rect x="390.40" y="585.55" width="3.2" height="3.2" fill="#ee9c24"/>
<rect x="386.80" y="587.30" width="3.2" height="3.2" fill="#ee9c24"/>
<rect x="388.60" y="587.30" width="3.2" height="3.2" fill="#ee9c24"/>
<rect x="390.40" y="587.30" width="3.2" height="3.2" fill="#ee9c24"/>
<rect x="386.80" y="589.05" width="3.2" height="3.2" fill="#ee9c24"/>
<rect x="388.60" y="589.05" width="3.2" height="3.2" fill="#ee9c24"/>
<rect x="390.40" y="589.05" width="3.2" height="3.2" fill="#ee9c24"/>
<rect x="386.80" y="590.80" width="3.2" height="3.2" fill="#ee9c24"/>
<rect x="388.60" y="590.80" width="3.2" height="3.2" fill="#ee9c24"/>
<rect x="390.40" y="590.80" width="3.2" height="3.2" fill="#ee9c24"/>
<line x1="390.20" y1="584.50" x2="390.20" y2="593.50" stroke="#a0601a" stroke-width="0.9"/>
<path d="M399.15 593.77L400.90 596.93L397.40 596.93Z" fill="#32993a"/>
<path d="M401.00 593.77L402.75 596.93L399.25 596.93Z" fill="#32993a"/>
<path d="M402.85 593.77L404.60 596.93L401.10 596.93Z" fill="#32993a"/>
<path d="M399.15 595.33L400.90 598.48L397.40 598.48Z" fill="#32993a"/>
<path d="M401.00 595.33L402.75 598.48L399.25 598.48Z" fill="#32993a"/>
<path d="M402.85 595.33L404.60 598.48L401.10 598.48Z" fill="#32993a"/>
<path d="M399.15 596.88L400.90 600.03L397.40 600.03Z" fill="#32993a"/>
<path d="M401.00 596.88L402.75 600.03L399.25 600.03Z" fill="#32993a"/>
<path d="M402.85 596.88L404.60 600.03L401.10 600.03Z" fill="#32993a"/>
<rect x="408.50" y="608.20" width="7.2" height="2.8" fill="#c8173c"/>
<path d="M411.20 608.15L412.70 605.45L409.70 605.45Z" fill="#c8173c"/>
<circle cx="428.30" cy="592.50" r="1.7" fill="#1a3f72"/>
<circle cx="429.90" cy="592.50" r="1.7" fill="#1a3f72"/>
<circle cx="428.30" cy="594.43" r="1.7" fill="#1a3f72"/>
<circle cx="429.90" cy="594.43" r="1.7" fill="#1a3f72"/>
<circle cx="428.30" cy="596.37" r="1.7" fill="#1a3f72"/>
<circle cx="429.90" cy="596.37" r="1.7" fill="#1a3f72"/>
<circle cx="428.30" cy="598.30" r="1.7" fill="#1a3f72"/>
<circle cx="429.90" cy="598.30" r="1.7" fill="#1a3f72"/>
<text x="435.55" y="581.20" font-size="8.8" text-anchor="middle" fill="#222" textLength="7.20" lengthAdjust="spacingAndGlyphs">ns</text>
<path d="M429.60 586.00V584.00H440.60V597.50" fill="none" stroke="#333" stroke-width="1.2"/>
<path d="M440.00 600.98L441.80 604.22L438.20 604.22Z" fill="#ee9c24"/>
<path d="M441.80 600.98L443.60 604.22L440.00 604.22Z" fill="#ee9c24"/>
<path d="M440.00 602.48L441.80 605.72L438.20 605.72Z" fill="#ee9c24"/>
<path d="M441.80 602.48L443.60 605.72L440.00 605.72Z" fill="#ee9c24"/>
<path d="M440.00 603.98L441.80 607.22L438.20 607.22Z" fill="#ee9c24"/>
<path d="M441.80 603.98L443.60 607.22L440.00 607.22Z" fill="#ee9c24"/>
<path d="M450.15 600.97L451.90 604.12L448.40 604.12Z" fill="#32993a"/>
<path d="M451.65 600.97L453.40 604.12L449.90 604.12Z" fill="#32993a"/>
<path d="M450.15 602.27L451.90 605.43L448.40 605.43Z" fill="#32993a"/>
<path d="M451.65 602.27L453.40 605.43L449.90 605.43Z" fill="#32993a"/>
<rect x="458.80" y="608.30" width="6.4" height="2.6" fill="#c8173c"/>
<circle cx="479.50" cy="606.70" r="1.7" fill="#1a3f72"/>
<circle cx="480.90" cy="606.70" r="1.7" fill="#1a3f72"/>
<circle cx="479.50" cy="607.70" r="1.7" fill="#1a3f72"/>
<circle cx="480.90" cy="607.70" r="1.7" fill="#1a3f72"/>
<text x="485.00" y="590.30" font-size="8.8" text-anchor="middle" fill="#222" textLength="7.20" lengthAdjust="spacingAndGlyphs">ns</text>
<path d="M478.70 600.00V593.10H491.70V598.50" fill="none" stroke="#333" stroke-width="1.2"/>
<path d="M490.20 600.98L492.00 604.22L488.40 604.22Z" fill="#ee9c24"/>
<path d="M491.80 600.98L493.60 604.22L490.00 604.22Z" fill="#ee9c24"/>
<path d="M490.20 602.88L492.00 606.12L488.40 606.12Z" fill="#ee9c24"/>
<path d="M491.80 602.88L493.60 606.12L490.00 606.12Z" fill="#ee9c24"/>
<path d="M490.20 604.78L492.00 608.02L488.40 608.02Z" fill="#ee9c24"/>
<path d="M491.80 604.78L493.60 608.02L490.00 608.02Z" fill="#ee9c24"/>
<line x1="501.70" y1="591.50" x2="501.70" y2="605.00" stroke="#333" stroke-width="0.9"/>
<line x1="500.10" y1="598.50" x2="503.30" y2="598.50" stroke="#333" stroke-width="0.9"/>
<line x1="500.58" y1="591.50" x2="502.82" y2="591.50" stroke="#333" stroke-width="0.9"/>
<line x1="500.58" y1="605.00" x2="502.82" y2="605.00" stroke="#333" stroke-width="0.9"/>
<path d="M501.70 586.25L503.20 588.95L500.20 588.95Z" fill="#32993a"/>
<path d="M501.55 596.17L503.30 599.33L499.80 599.33Z" fill="#32993a"/>
<path d="M502.05 598.21L503.80 601.36L500.30 601.36Z" fill="#32993a"/>
<path d="M501.05 600.24L502.80 603.39L499.30 603.39Z" fill="#32993a"/>
<path d="M501.55 602.27L503.30 605.43L499.80 605.43Z" fill="#32993a"/>
<rect x="509.10" y="608.10" width="7.4" height="2.6" fill="#c8173c"/>
<circle cx="427.40" cy="516.80" r="1.5" fill="#15285a"/>
<rect x="425.75" y="525.95" width="3.3" height="3.3" fill="#dc8c3a"/>
<path d="M427.40 537.57L429.10 540.63L425.70 540.63Z" fill="#3a8a3a"/>
<path d="M427.40 549.93L429.10 546.87L425.70 546.87Z" fill="#8a1a40"/>
<text x="433.80" y="519.30" font-size="8.6" text-anchor="start" fill="#222" textLength="35.50" lengthAdjust="spacingAndGlyphs">MyeloVec</text>
<text x="433.80" y="530.20" font-size="8.6" text-anchor="start" fill="#222" textLength="78.40" lengthAdjust="spacingAndGlyphs">CCLchim-mCit-WPRE</text>
<text x="433.80" y="541.80" font-size="8.6" text-anchor="start" fill="#222" textLength="62.40" lengthAdjust="spacingAndGlyphs">UBC-mCit-WPRE</text>
<text x="433.80" y="551.40" font-size="8.6" text-anchor="start" fill="#222" textLength="58.90" lengthAdjust="spacingAndGlyphs">Non-transduced</text>
<text x="321.60" y="647.40" font-size="9.0" text-anchor="middle" fill="#222" transform="rotate(-45 321.60 647.40)">Monocytes (CD14+</text>
<text x="328.67" y="654.47" font-size="9.0" text-anchor="middle" fill="#222" transform="rotate(-45 328.67 654.47)">CD11b+ CD66b-)</text>
<text x="380.40" y="641.20" font-size="9.0" text-anchor="middle" fill="#222" transform="rotate(-45 380.40 641.20)">Myeloid cells</text>
<text x="387.47" y="648.27" font-size="9.0" text-anchor="middle" fill="#222" transform="rotate(-45 387.47 648.27)">(CD33+)</text>
<text x="439.60" y="631.90" font-size="9.0" text-anchor="middle" fill="#222" transform="rotate(-45 439.60 631.90)">B cells</text>
<text x="446.67" y="638.97" font-size="9.0" text-anchor="middle" fill="#222" transform="rotate(-45 446.67 638.97)">(CD19+)</text>
<text x="491.00" y="631.90" font-size="9.0" text-anchor="middle" fill="#222" transform="rotate(-45 491.00 631.90)">T cells</text>
<text x="498.07" y="638.97" font-size="9.0" text-anchor="middle" fill="#222" transform="rotate(-45 498.07 638.97)">(CD3+)</text>
</svg>
</body></html>
